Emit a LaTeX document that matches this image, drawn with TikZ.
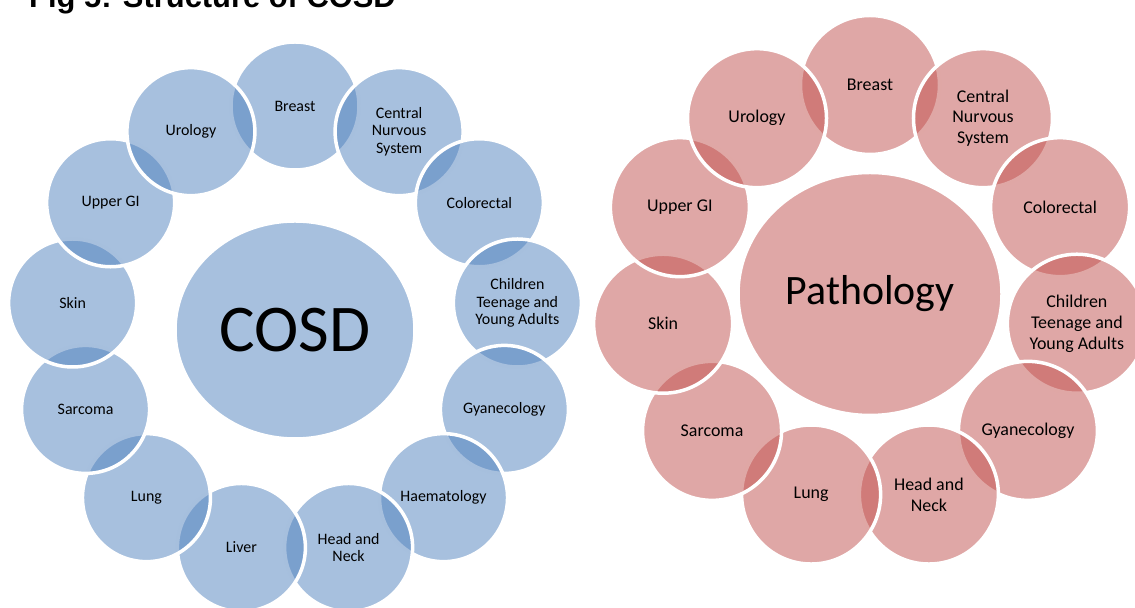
\documentclass[tikz,border=0pt]{standalone}
\usepackage{fontspec}
\setmainfont{Carlito}
\newfontfamily\titlefont{Liberation Sans}
\usetikzlibrary{shapes,positioning,calc}
\definecolor{cosdblue}{RGB}{79,129,189}
\definecolor{pathred}{RGB}{192,80,77}
\tikzset{
  bubble/.style={circle, draw=white, line width=3.5bp, fill opacity=0.5, text opacity=1, align=center, inner sep=0pt},
  hub/.style={ellipse, draw=white, line width=3.5bp, fill opacity=0.5, text opacity=1, inner sep=0pt}
}
\begin{document}
\begin{tikzpicture}[x=1bp,y=1bp]
\useasboundingbox (0,0) rectangle (1135,608);
\clip (0,0) rectangle (1135,608);

\node[anchor=base west, inner sep=0pt, font=\titlefont\bfseries\fontsize{31}{36}\selectfont] (title) at (29,600) {Fig 5: Structure of COSD};

\coordinate (c1) at (295,278);
\coordinate (c2) at (870,314);

\node[hub, fill=cosdblue, minimum width=240bp, minimum height=218bp, font=\fontsize{67}{70}\selectfont] (cosd) at (c1) {COSD};
\foreach \name [count=\i from 0] in {Breast, Central\\Nurvous\\System, Colorectal, Children\\Teenage and\\Young Adults, Gyanecology, Haematology, Head and\\Neck, Liver, Lung, Sarcoma, Skin, Upper GI, Urology}
  \node[bubble, fill=cosdblue, minimum size=128bp, font=\fontsize{16}{17.5}\selectfont] (cosd-\i) at ($(c1)+(90-\i*360/13:224)$) {\name};

\node[hub, fill=pathred, minimum width=264bp, minimum height=243bp, font=\fontsize{42}{46}\selectfont] (path) at (c2) {Pathology};
\foreach \name [count=\i from 0] in {Breast, Central\\Nurvous\\System, Colorectal, Children\\Teenage and\\Young Adults, Gyanecology, Head and\\Neck, Lung, Sarcoma, Skin, Upper GI, Urology}
  \node[bubble, fill=pathred, minimum size=139bp, font=\fontsize{18}{21}\selectfont] (path-\i) at ($(c2)+(90-\i*360/11:209)$) {\name};
\end{tikzpicture}
\end{document}
